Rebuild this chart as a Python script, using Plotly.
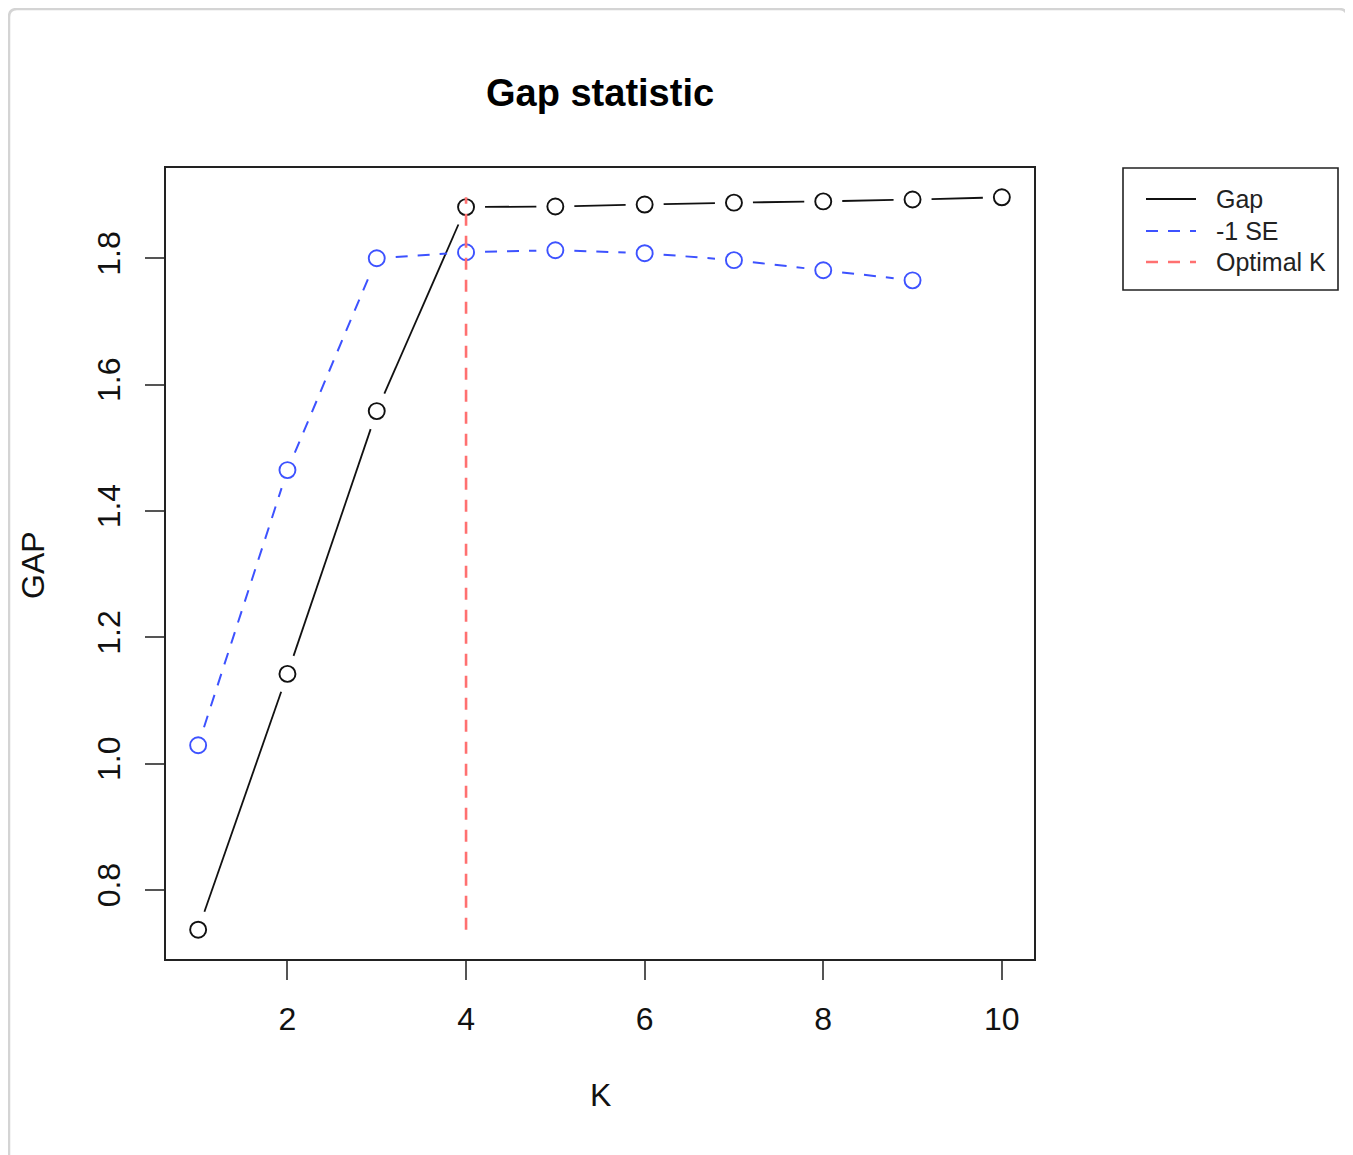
import plotly.graph_objects as go
import math

# ---- data ----
K = [1, 2, 3, 4, 5, 6, 7, 8, 9, 10]
gap = [0.737, 1.142, 1.558, 1.881, 1.882, 1.885, 1.888, 1.890, 1.893, 1.8965]
K_se = [1, 2, 3, 4, 5, 6, 7, 8, 9]
gap_minus_se = [1.029, 1.4646, 1.800, 1.8095, 1.8127, 1.808, 1.797, 1.781, 1.765]
optimal_k = 4
x_ticks = [2, 4, 6, 8, 10]
y_ticks = [0.8, 1.0, 1.2, 1.4, 1.6, 1.8]
legend_names = ["Gap", "-1 SE", "Optimal K"]

# ---- layout geometry (page pixels; body has 8px margin) ----
OFF = 8
W, H = 1353 - OFF, 1155 - OFF
PL, PR, PT, PB = 166, 1034, 168, 959          # plot area in page pixels
ML, MT = PL - OFF, PT - OFF
PW, PH = PR - PL, PB - PT
MR, MB = W - ML - PW, H - MT - PH

def X(p):  # page x pixel -> paper
    return (p - PL) / PW

def Y(p):  # page y pixel -> paper
    return (PB - p) / PH

def padded(lo, hi):
    d = (hi - lo) * 0.04
    return [lo - d, hi + d]

xr = padded(min(K), max(K))
yr = padded(min(gap + gap_minus_se), max(gap + gap_minus_se))
sx = PW / (xr[1] - xr[0])
sy = PH / (yr[1] - yr[0])

def gapped(xs, ys, g=19.0):
    """R type='b' style: line segments stopping short of the points."""
    ox, oy = [], []
    for i in range(len(xs) - 1):
        dx = (xs[i + 1] - xs[i]) * sx
        dy = (ys[i + 1] - ys[i]) * sy
        L = math.hypot(dx, dy)
        if L <= 2 * g:
            continue
        f = g / L
        ox += [xs[i] + (xs[i + 1] - xs[i]) * f, xs[i + 1] - (xs[i + 1] - xs[i]) * f, None]
        oy += [ys[i] + (ys[i + 1] - ys[i]) * f, ys[i + 1] - (ys[i + 1] - ys[i]) * f, None]
    return ox, oy

BLACK = "#111111"
BLUE = "#3d52ff"
RED = "#ff7070"
DASH = "12px,10px"
FONT = "Liberation Sans, Arial, Helvetica, sans-serif"

fig = go.Figure()

gx, gy = gapped(K, gap)
fig.add_trace(go.Scatter(x=gx, y=gy, mode="lines", line=dict(color=BLACK, width=1.8),
                         hoverinfo="skip", showlegend=False))
fig.add_trace(go.Scatter(x=K, y=gap, mode="markers", showlegend=False, hoverinfo="skip",
                         marker=dict(symbol="circle-open", size=16, color=BLACK,
                                     line=dict(width=1.9, color=BLACK))))

bx, by = gapped(K_se, gap_minus_se)
fig.add_trace(go.Scatter(x=bx, y=by, mode="lines", line=dict(color=BLUE, width=2, dash=DASH),
                         hoverinfo="skip", showlegend=False))
fig.add_trace(go.Scatter(x=K_se, y=gap_minus_se, mode="markers", showlegend=False, hoverinfo="skip",
                         marker=dict(symbol="circle-open", size=16, color=BLUE,
                                     line=dict(width=1.9, color=BLUE))))

fig.add_trace(go.Scatter(x=[optimal_k, optimal_k], y=[min(gap), max(gap)], mode="lines",
                         line=dict(color=RED, width=2.6, dash=DASH),
                         hoverinfo="skip", showlegend=False))

# ---- shapes: page border + manual R-style legend ----
shapes = []
rx, ry = 8 / PW, 8 / PH
x0, x1 = X(9), X(1347)
y0, y1 = Y(1200), Y(9)
path = (f"M {x0},{y0} L {x0},{y1 - ry} Q {x0},{y1} {x0 + rx},{y1} "
        f"L {x1 - rx},{y1} Q {x1},{y1} {x1},{y1 - ry} L {x1},{y0}")
shapes.append(dict(type="path", xref="paper", yref="paper", path=path,
                   line=dict(color="#d4d4d4", width=2.5), layer="below"))
shapes.append(dict(type="rect", xref="paper", yref="paper",
                   x0=X(1123), x1=X(1338), y0=Y(290), y1=Y(168),
                   line=dict(color="#222222", width=1.6), fillcolor="rgba(0,0,0,0)"))
legend_rows = [199, 231, 262]
legend_styles = [(BLACK, None, 1.8), (BLUE, "dash", 2), (RED, "dash", 2.6)]
annotations = []
for name, ry_, (col, dsh, wd) in zip(legend_names, legend_rows, legend_styles):
    ln = dict(color=col, width=wd)
    if dsh:
        ln["dash"] = DASH
    shapes.append(dict(type="line", xref="paper", yref="paper",
                       x0=X(1146), x1=X(1196), y0=Y(ry_), y1=Y(ry_), line=ln))
    annotations.append(dict(text=name, xref="paper", yref="paper", x=X(1214), y=Y(ry_),
                            xanchor="left", yanchor="middle", showarrow=False,
                            font=dict(size=25, family=FONT, color="#222222")))

annotations += [
    dict(text="<b>Gap statistic</b>", xref="paper", yref="paper",
         x=X(600), y=Y(93), xanchor="center", yanchor="middle",
         showarrow=False, font=dict(size=38, family=FONT, color="#000000")),
    dict(text="K", xref="paper", yref="paper",
         x=X(600), y=Y(1095), xanchor="center", yanchor="middle",
         showarrow=False, font=dict(size=32, family=FONT, color=BLACK)),
    dict(text="GAP", xref="paper", yref="paper", textangle=-90,
         x=X(33), y=Y(565), xanchor="center", yanchor="middle",
         showarrow=False, font=dict(size=32, family=FONT, color=BLACK)),
]

fig.update_layout(
    width=W, height=H,
    margin=dict(l=ML, r=MR, t=MT, b=MB, pad=0),
    paper_bgcolor="white", plot_bgcolor="white",
    font=dict(family=FONT, color=BLACK),
    hovermode=False,
    showlegend=False,
    shapes=shapes,
    annotations=annotations,
)

axis_common = dict(showgrid=False, zeroline=False, showline=True, mirror=True,
                   linecolor="#222222", linewidth=1.7,
                   ticks="outside", ticklen=19, tickwidth=1.7, tickcolor="#555555",
                   tickfont=dict(size=32, family=FONT, color=BLACK),
                   ticklabelstandoff=12)
fig.update_xaxes(range=xr, tickmode="array", tickvals=x_ticks,
                 ticktext=[str(v) for v in x_ticks], **axis_common)
fig.update_yaxes(range=yr, tickmode="array", tickvals=y_ticks,
                 ticktext=[f"{v:.1f}" for v in y_ticks], tickangle=-90, **axis_common)

fig.write_html("out.html")
